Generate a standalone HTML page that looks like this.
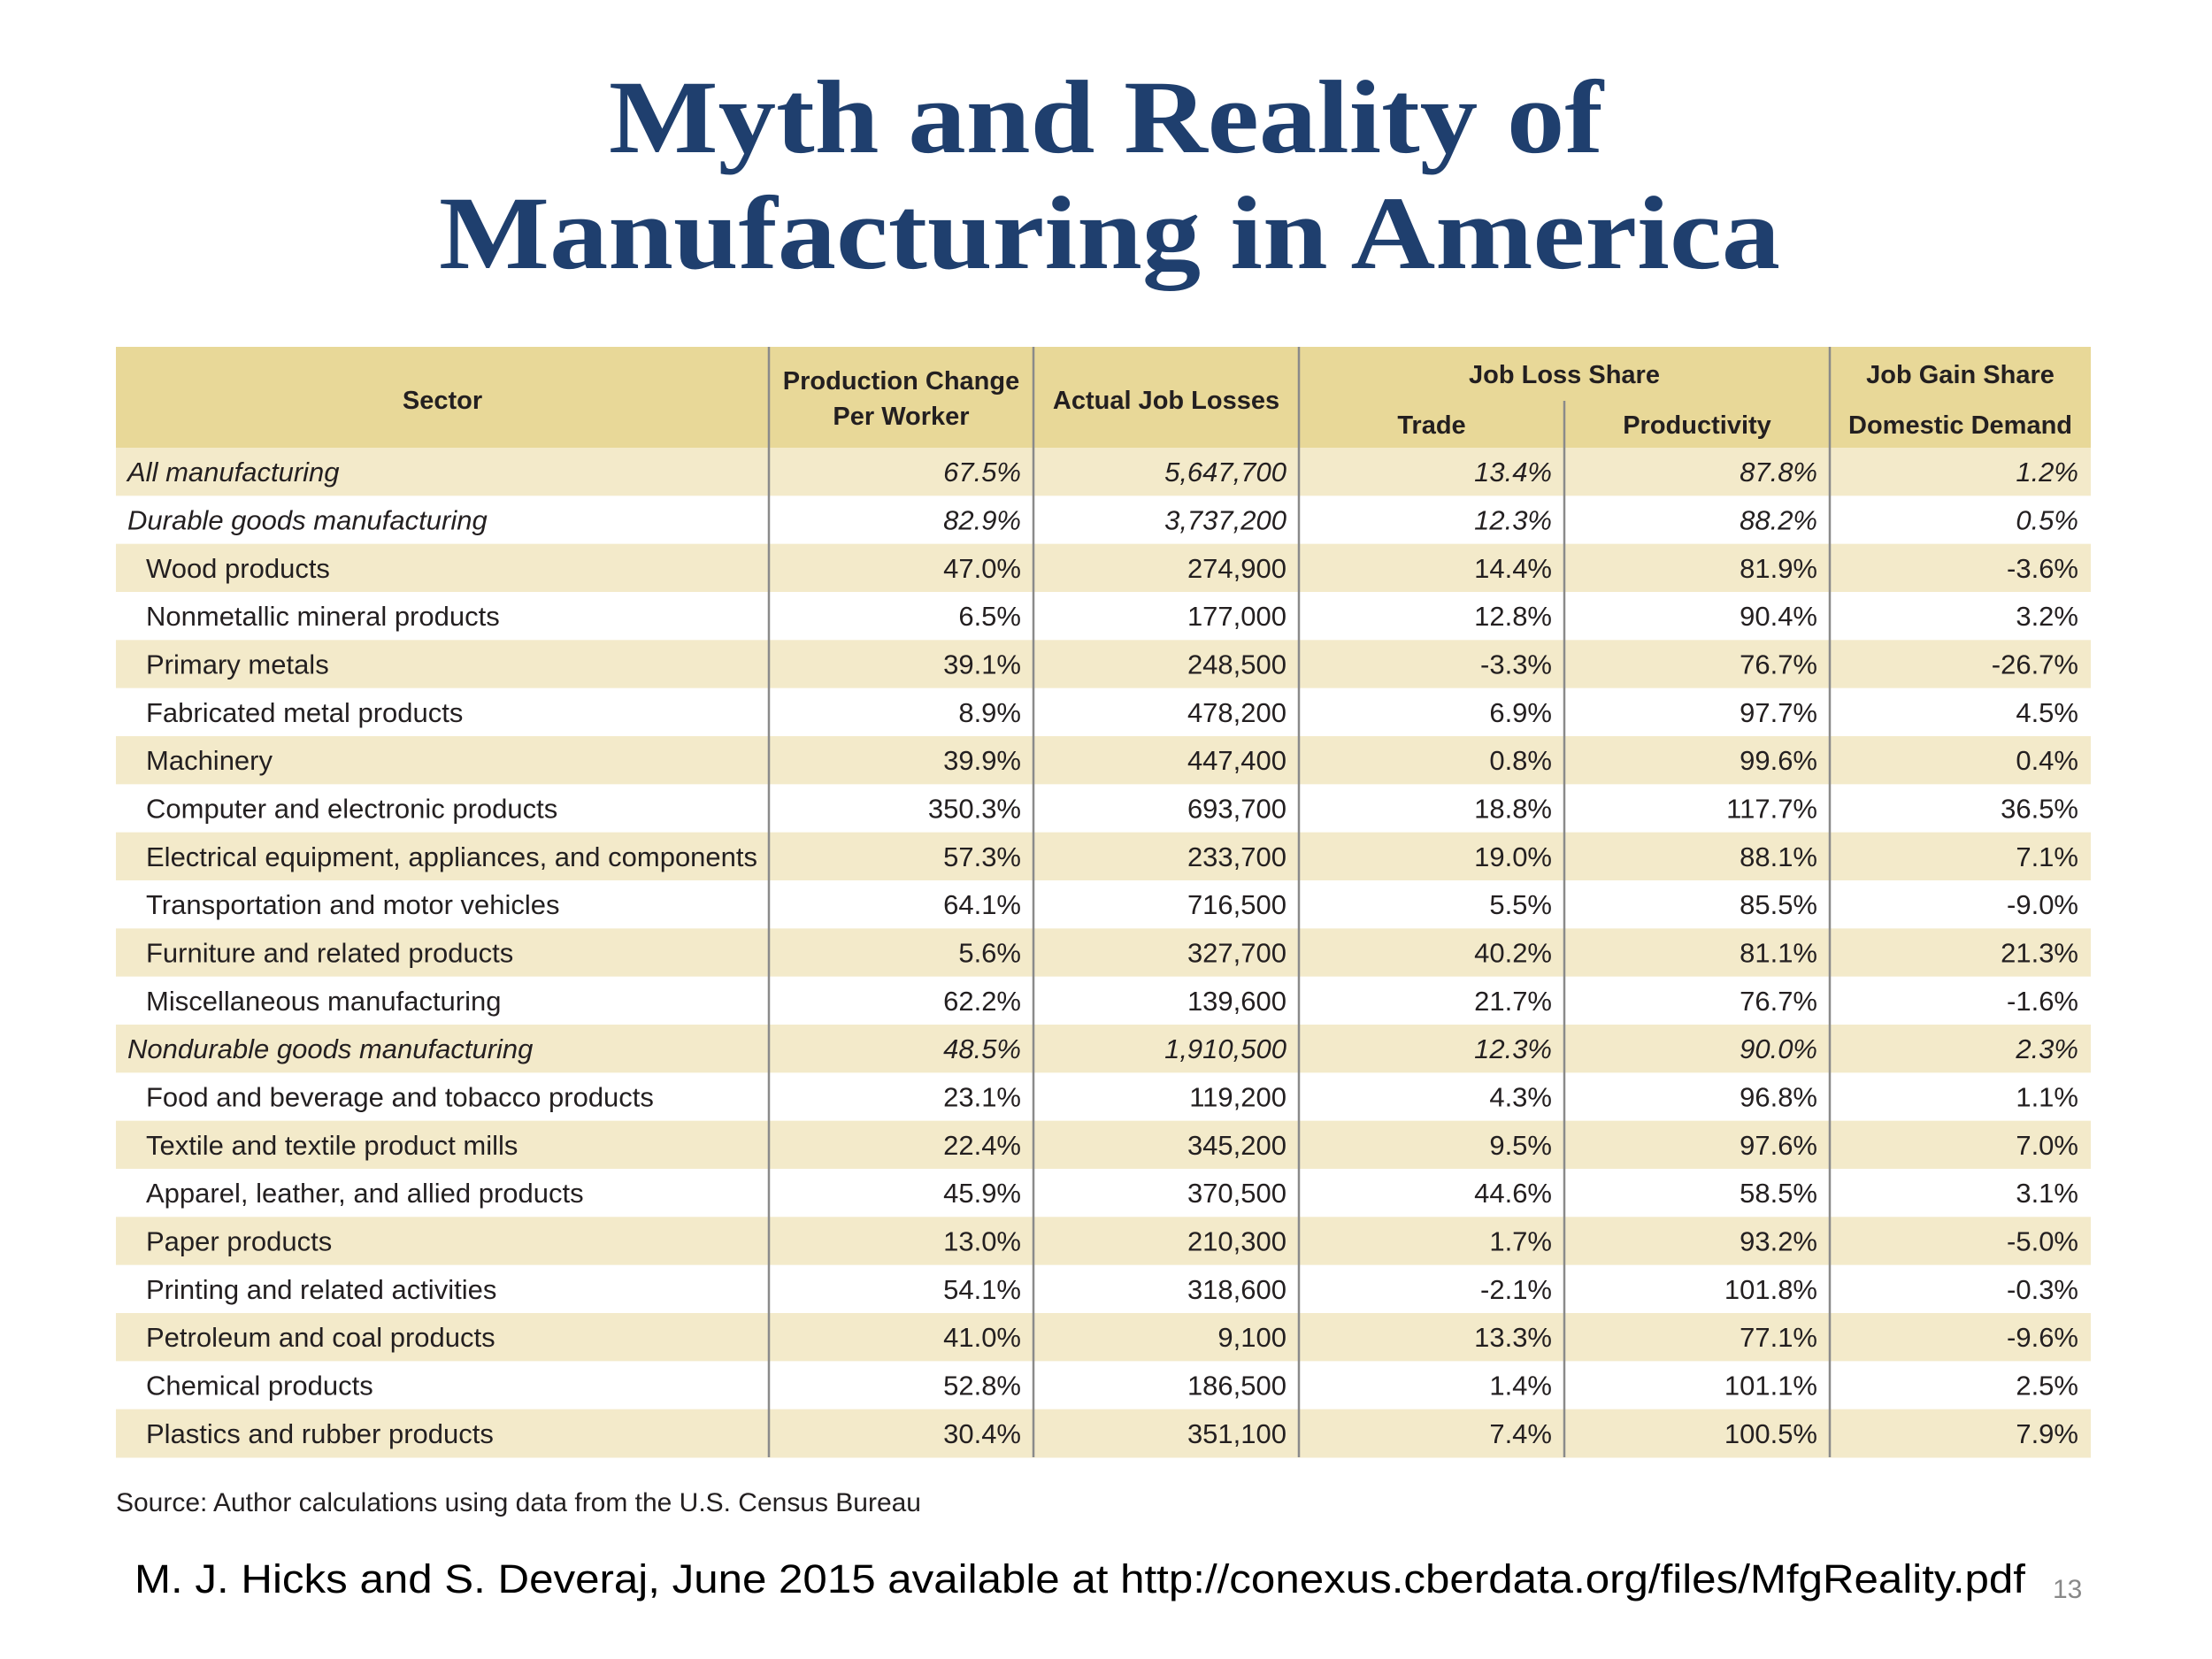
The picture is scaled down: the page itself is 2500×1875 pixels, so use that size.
<!DOCTYPE html>
<html><head><meta charset="utf-8"><style>
html,body{margin:0;padding:0;background:#fff;}
svg{display:block;}
.t{font-family:"Liberation Sans Narrow","Liberation Sans",sans-serif;fill:#231f20;}
</style></head><body>
<svg id="s" width="2500" height="1875" viewBox="0 0 2500 1875" xmlns="http://www.w3.org/2000/svg">
<text x="1250" y="172" text-anchor="middle" font-family="'Liberation Serif',serif" font-weight="bold" font-size="118" fill="#1f3f6e" textLength="1124" lengthAdjust="spacingAndGlyphs">Myth and Reality of</text>
<text x="1254" y="303" text-anchor="middle" font-family="'Liberation Serif',serif" font-weight="bold" font-size="118" fill="#1f3f6e" textLength="1516" lengthAdjust="spacingAndGlyphs">Manufacturing in America</text>
<g id="tbl"></g>
<text x="131" y="1708" class="t" font-size="30" fill="#333" textLength="910" lengthAdjust="spacingAndGlyphs">Source: Author calculations using data from the U.S. Census Bureau</text>
<text x="152" y="1800" font-family="'Liberation Sans',sans-serif" font-size="45" fill="#000" textLength="2137" lengthAdjust="spacingAndGlyphs">M. J. Hicks and S. Deveraj, June 2015 available at http://conexus.cberdata.org/files/MfgReality.pdf</text>
<text x="2320" y="1806" font-family="'Liberation Sans',sans-serif" font-size="30" fill="#888">13</text>
</svg>
<script>
const sectors=["All manufacturing","Durable goods manufacturing","Wood products","Nonmetallic mineral products","Primary metals","Fabricated metal products","Machinery","Computer and electronic products","Electrical equipment, appliances, and components","Transportation and motor vehicles","Furniture and related products","Miscellaneous manufacturing","Nondurable goods manufacturing","Food and beverage and tobacco products","Textile and textile product mills","Apparel, leather, and allied products","Paper products","Printing and related activities","Petroleum and coal products","Chemical products","Plastics and rubber products"];
const italicRows=[0,1,12];
const prodChange=["67.5%","82.9%","47.0%","6.5%","39.1%","8.9%","39.9%","350.3%","57.3%","64.1%","5.6%","62.2%","48.5%","23.1%","22.4%","45.9%","13.0%","54.1%","41.0%","52.8%","30.4%"];
const jobLosses=["5,647,700","3,737,200","274,900","177,000","248,500","478,200","447,400","693,700","233,700","716,500","327,700","139,600","1,910,500","119,200","345,200","370,500","210,300","318,600","9,100","186,500","351,100"];
const trade=["13.4%","12.3%","14.4%","12.8%","-3.3%","6.9%","0.8%","18.8%","19.0%","5.5%","40.2%","21.7%","12.3%","4.3%","9.5%","44.6%","1.7%","-2.1%","13.3%","1.4%","7.4%"];
const productivity=["87.8%","88.2%","81.9%","90.4%","76.7%","97.7%","99.6%","117.7%","88.1%","85.5%","81.1%","76.7%","90.0%","96.8%","97.6%","58.5%","93.2%","101.8%","77.1%","101.1%","100.5%"];
const domestic=["1.2%","0.5%","-3.6%","3.2%","-26.7%","4.5%","0.4%","36.5%","7.1%","-9.0%","21.3%","-1.6%","2.3%","1.1%","7.0%","3.1%","-5.0%","-0.3%","-9.6%","2.5%","7.9%"];

const NS="http://www.w3.org/2000/svg";
const g=document.getElementById('tbl');
const L=131,R=2363,HT=392,HB=506,RH=(1647-506)/21;
const cols=[869,1168,1468,1768,2068];
const SX=1.0;
function mk(tag,attrs,txt){const e=document.createElementNS(NS,tag);for(const k in attrs)e.setAttribute(k,attrs[k]);if(txt!==undefined)e.textContent=txt;g.appendChild(e);return e;}
function txt(x,y,s,extra){const a=Object.assign({x:0,y:0,class:'t','font-size':31,transform:'translate('+x+','+y+') scale('+SX+',1)'},extra);return mk('text',a,s);}
let e=mk('rect',{x:L,y:HT,width:R-L,height:HB-HT,fill:'#e8d898'});


sectors.forEach((s,i)=>{
  const y=HB+i*RH;
  const r=mk('rect',{x:L,y:y,width:R-L,height:RH+0.5,fill:i%2===0?'#f3eaca':'#ffffff'});
  
  
  const by=y+RH/2+11;
  const it=italicRows.includes(i);
  const t=txt(it?144:165,by,s,{'font-style':it?'italic':'normal'});
  
  
  const vals=[prodChange[i],jobLosses[i],trade[i],productivity[i],domestic[i]];
  const rights=[cols[0],cols[1],cols[2],cols[3],cols[4],R];
  vals.forEach((v,j)=>{
    const c=txt(rights[j+1]-14,by,v,{'text-anchor':'end','font-style':it?'italic':'normal'});
    
    
  });
});
cols.forEach((x,j)=>{
  const l=mk('line',{x1:x,x2:x,y1:j===3?453:HT,y2:1647,stroke:'#8a8a8a','stroke-width':2.5});
  
  
});
const hdr=[["Sector",(L+869)/2,462],["Production Change",(869+1168)/2,440],["Per Worker",(869+1168)/2,480],["Actual Job Losses",(1168+1468)/2,462],["Job Loss Share",(1468+2068)/2,433],["Trade",(1468+1768)/2,490],["Productivity",(1768+2068)/2,490],["Job Gain Share",(2068+R)/2,433],["Domestic Demand",(2068+R)/2,490]];
hdr.forEach(h=>{
  const t=txt(h[1],h[2],h[0],{'font-weight':'bold','text-anchor':'middle','font-size':29});
  
  
});
</script>
</body></html>
